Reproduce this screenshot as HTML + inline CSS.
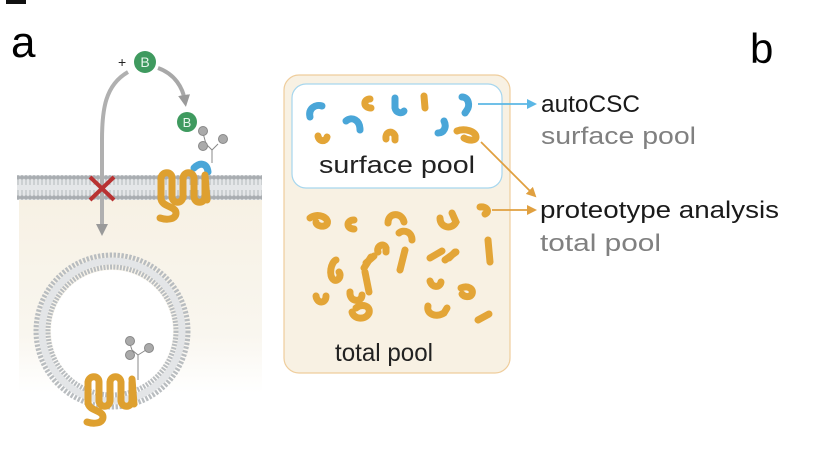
<!DOCTYPE html>
<html><head><meta charset="utf-8"><style>
html,body{margin:0;padding:0;background:#fff;}
svg{display:block;font-family:"Liberation Sans",sans-serif;}
</style></head><body>
<svg width="820" height="464" viewBox="0 0 820 464">
<defs>
<linearGradient id="cyto" x1="0" y1="0" x2="0" y2="1">
<stop offset="0" stop-color="#f7f1e4"/><stop offset="0.7" stop-color="#f9f6ef"/><stop offset="1" stop-color="#ffffff"/>
</linearGradient>
<pattern id="lipid" width="4" height="25" patternUnits="userSpaceOnUse">
<rect width="4" height="25" fill="#e4e6e8"/>
<circle cx="2" cy="2.5" r="2.2" fill="#a9adb1"/><circle cx="2" cy="22.5" r="2.2" fill="#a9adb1"/>
<line x1="2" y1="4" x2="2" y2="10" stroke="#b5b9bc" stroke-width="1"/>
<line x1="2" y1="15" x2="2" y2="21" stroke="#b5b9bc" stroke-width="1"/>
</pattern>
<marker id="ag" markerWidth="12" markerHeight="12" refX="6" refY="6" orient="auto" markerUnits="userSpaceOnUse"><path d="M0,0 L12,6 L0,12Z" fill="#9a9a9a"/></marker>
<marker id="ab" markerWidth="10" markerHeight="10" refX="8" refY="5" orient="auto" markerUnits="userSpaceOnUse"><path d="M0,0 L10,5 L0,10Z" fill="#5bb7e5"/></marker>
<marker id="ao" markerWidth="10" markerHeight="10" refX="8" refY="5" orient="auto" markerUnits="userSpaceOnUse"><path d="M0,0 L10,5 L0,10Z" fill="#e0a040"/></marker>
</defs>

<rect x="6" y="0" width="20" height="4" fill="#111"/>
<text x="11" y="57" font-size="44" fill="#000">a</text>
<text x="750" y="63" font-size="42" fill="#000">b</text>

<!-- panel a -->
<rect x="19" y="198" width="243" height="195" fill="url(#cyto)"/>
<rect x="17" y="175" width="245" height="25" fill="url(#lipid)"/>
<g>
<circle cx="112" cy="331" r="70" fill="none" stroke="#b9bdc0" stroke-width="17" stroke-dasharray="2.2 1.4"/>
<circle cx="112" cy="331" r="70" fill="none" stroke="#e3e5e7" stroke-width="7"/>
<circle cx="112" cy="331" r="61" fill="#fff"/>
</g>
<path d="M128,72 C105,85 102,110 102,140 L102,230" fill="none" stroke="#b0b0b0" stroke-width="4" marker-end="url(#ag)"/>
<path d="M158,68 C175,74 183,88 185,101" fill="none" stroke="#a8a8a8" stroke-width="4" marker-end="url(#ag)"/>
<g stroke="#b83232" stroke-width="4"><line x1="90" y1="177" x2="114" y2="200"/><line x1="114" y1="177" x2="90" y2="200"/></g>
<text x="118" y="67" font-size="14" fill="#222">+</text>
<g><circle cx="145" cy="62" r="11" fill="#3f9a5f"/><text x="145" y="67" font-size="14" fill="#e8f5ec" text-anchor="middle">B</text></g>
<g><circle cx="187" cy="122" r="10" fill="#3f9a5f"/><text x="187" y="127" font-size="13" fill="#e8f5ec" text-anchor="middle">B</text></g>
<g fill="#aaa" stroke="#888" stroke-width="1">
<path d="M212,163 L212,150 L206,144 M212,150 L218,144 M206,144 L203,133 M206,144 L200,148" fill="none"/>
<circle cx="203" cy="131" r="4.5"/><circle cx="223" cy="139" r="4.5"/><circle cx="203" cy="146" r="4.5"/>
</g>
<path d="M194,168 C200,162 207,163 208,172" fill="none" stroke="#4aa6d8" stroke-width="7" stroke-linecap="round"/>
<path d="M161,178 L161,198 M161,178 C162,171 172,171 172,178 L172,197 M172,197 C173,204 182,204 183,197 L183,178 M183,178 C184,171 193,171 194,178 L194,197 M194,197 C195,204 204,204 205,197 L205,178 M205,175 L207,200 M161,198 C161,207 176,206 176,213 C176,220 166,220 160,218" fill="none" stroke="#dea030" stroke-width="7" stroke-linecap="round"/>
<g fill="#aaa" stroke="#888" stroke-width="1">
<path d="M138,380 L138,355 L132,350 M138,355 L146,350 M132,350 L130,344" fill="none"/>
<circle cx="130" cy="341" r="4.5"/><circle cx="149" cy="348" r="4.5"/><circle cx="130" cy="355" r="4.5"/>
</g>
<path d="M88,382 L88,402 M88,382 C89,375 99,375 99,382 L99,401 M99,401 C100,408 109,408 110,401 L110,382 M110,382 C111,375 120,375 121,382 L121,401 M121,401 C122,408 131,408 132,401 L132,382 M132,379 L134,404 M88,402 C88,411 103,410 103,417 C103,424 93,424 87,422" fill="none" stroke="#dea030" stroke-width="7" stroke-linecap="round"/>

<!-- panel b -->
<rect x="284" y="75" width="226" height="298" rx="15" fill="#f8f1e3" stroke="#efcd9c" stroke-width="1.2"/>
<rect x="292" y="84" width="210" height="104" rx="14" fill="#fff" stroke="#a6d6ee" stroke-width="1.2"/>
<g fill="none" stroke-width="7" stroke-linecap="round">
<path d="M310,117 C308,108 316,104 322,106" stroke="#4aa6d8"/>
<path d="M346,121 C352,116 360,120 360,130" stroke="#4aa6d8"/>
<path d="M395,98 L395,108 C396,113 402,114 404,111" stroke="#4aa6d8"/>
<path d="M462,97 C469,97 470,106 467,110 L465,113" stroke="#4aa6d8"/>
<path d="M438,133 C444,133 447,127 444,121" stroke="#4aa6d8"/>
<path d="M370,99 C363,99 363,108 371,108" stroke="#e3a537"/>
<path d="M424,96 L425,108" stroke="#e3a537"/>
<path d="M318,136 C319,142 326,142 327,137" stroke="#e3a537"/>
<path d="M386,139 C385,131 393,130 395,136 L395,140" stroke="#e3a537"/>
<path d="M457,131 C464,128 476,131 476,137 C476,141 469,141 464,138" stroke="#e3a537"/>
</g>
<g fill="none" stroke="#e3a537" stroke-width="7" stroke-linecap="round">
<path d="M310,218 C318,212 330,218 327,224 C324,228 316,226 316,222"/>
<path d="M354,220 C346,220 346,229 354,229"/>
<path d="M388,223 C388,212 402,212 404,222"/>
<path d="M412,240 C412,232 404,229 399,233"/>
<path d="M440,218 C440,228 452,230 456,222 L452,213"/>
<path d="M480,207 C487,206 490,212 485,214"/>
<path d="M378,252 C376,246 384,242 386,248 L386,252"/>
<path d="M366,263 L374,256 M371,257 L364,268"/>
<path d="M336,260 C331,262 328,276 334,280 C338,282 342,276 339,272"/>
<path d="M365,272 L369,292"/>
<path d="M488,240 L490,262"/>
<path d="M449,258 L455,252 M445,260 L456,252"/>
<path d="M430,258 L442,251" />
<path d="M405,250 L400,270"/>
<path d="M316,296 C317,304 326,304 326,296"/>
<path d="M350,292 C349,302 362,303 362,295"/>
<path d="M430,281 C432,288 440,288 441,282"/>
<path d="M461,288 C468,285 474,289 472,294 C470,298 464,297 462,294"/>
<path d="M352,312 C354,320 366,320 369,313 C371,306 362,303 356,308"/>
<path d="M428,306 C426,314 436,318 444,313 L447,308"/>
<path d="M478,320 L489,314"/>
</g>
<text x="397" y="173" font-size="24" fill="#222" text-anchor="middle" textLength="156" lengthAdjust="spacingAndGlyphs">surface pool</text>
<text x="384" y="361" font-size="25" fill="#222" text-anchor="middle" textLength="98" lengthAdjust="spacingAndGlyphs">total pool</text>

<line x1="478" y1="104" x2="535" y2="104" stroke="#5bb7e5" stroke-width="1.8" marker-end="url(#ab)"/>
<line x1="481" y1="142" x2="535" y2="196" stroke="#e0a040" stroke-width="1.8" marker-end="url(#ao)"/>
<line x1="492" y1="210" x2="535" y2="210" stroke="#e0a040" stroke-width="1.8" marker-end="url(#ao)"/>

<text x="541" y="112" font-size="24" fill="#1a1a1a" textLength="99" lengthAdjust="spacingAndGlyphs">autoCSC</text>
<text x="541" y="144" font-size="24" fill="#808080" textLength="155" lengthAdjust="spacingAndGlyphs">surface pool</text>
<text x="540" y="218" font-size="24" fill="#1a1a1a" textLength="239" lengthAdjust="spacingAndGlyphs">proteotype analysis</text>
<text x="540" y="251" font-size="24" fill="#808080" textLength="121" lengthAdjust="spacingAndGlyphs">total pool</text>
</svg>
</body></html>
